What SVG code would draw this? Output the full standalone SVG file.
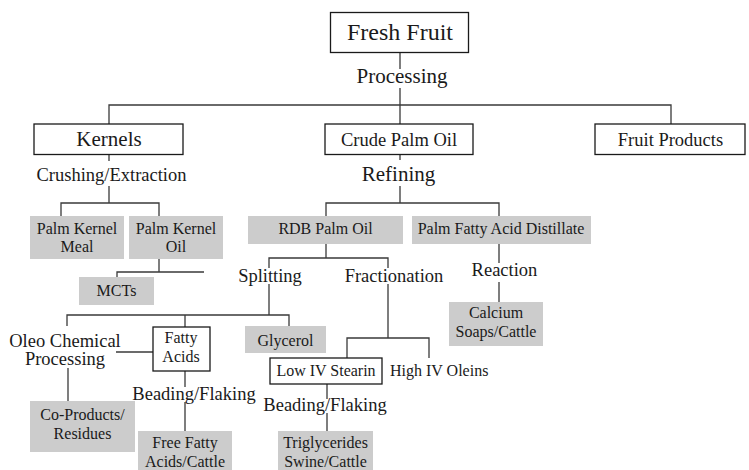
<svg xmlns="http://www.w3.org/2000/svg" width="749" height="470" viewBox="0 0 749 470">
<style>
text{font-family:"Liberation Serif","Times New Roman",serif;fill:#1a1a1a;text-anchor:middle}
.box{fill:#fff;stroke:#1a1a1a;stroke-width:1.3}
.grey{fill:#cccccc;stroke:none}
.c path{fill:none;stroke:#3a3a3a;stroke-width:1.3}
.s16{font-size:16px}
.s18{font-size:18.5px}
.s21{font-size:21px}
</style>
<rect width="749" height="470" fill="#fff"/>
<g class="c" id="connectors">
<path d="M400 52V69M400 88V124"/>
<path d="M109 124V105H671V124"/>
<path d="M109 155V161M109 186V203M61 216V203H159V216"/>
<path d="M159 259V272M204 272H117V277"/>
<path d="M400 154V160M400 186V203M326 216V203H499V216"/>
<path d="M326 244V258M269 268V258H388V268M269 284V315M388 284V338"/>
<path d="M67 326V315H289V326M185 315V327"/>
<path d="M116 352H153"/>
<path d="M68 368V401"/>
<path d="M185 371V387M185 402V431"/>
<path d="M347 358V338H429V358"/>
<path d="M327 384V399M327 413V431"/>
<path d="M499 244V263M499 282V302"/>
</g>
<g id="fresh-fruit"><rect class="box" x="330.5" y="12.5" width="138" height="40"/><text x="400" y="40" font-size="24">Fresh Fruit</text></g>
<g id="processing"><text class="s21" x="402" y="83">Processing</text></g>
<g id="kernels"><rect class="box" x="34" y="124" width="149" height="30.5"/><text class="s21" x="109" y="146">Kernels</text></g>
<g id="crude-palm-oil"><rect class="box" x="325" y="124" width="148" height="30.5"/><text class="s18" x="399" y="146">Crude Palm Oil</text></g>
<g id="fruit-products"><rect class="box" x="595" y="124" width="150" height="30.5"/><text class="s18" x="670.5" y="146">Fruit Products</text></g>
<g id="crushing"><text class="s18" x="111.5" y="181">Crushing/Extraction</text></g>
<g id="refining"><text class="s21" x="398.5" y="181">Refining</text></g>
<g id="pk-meal"><rect class="grey" x="30" y="216" width="94" height="43"/><text class="s16" x="77" y="234">Palm Kernel</text><text class="s16" x="77" y="252">Meal</text></g>
<g id="pk-oil"><rect class="grey" x="129" y="216" width="94" height="43"/><text class="s16" x="176" y="234">Palm Kernel</text><text class="s16" x="176" y="252">Oil</text></g>
<g id="mcts"><rect class="grey" x="79" y="277" width="75" height="28"/><text class="s16" x="116.5" y="296">MCTs</text></g>
<g id="rdb"><rect class="grey" x="248" y="216" width="155" height="28"/><text class="s16" x="325.5" y="234">RDB Palm Oil</text></g>
<g id="pfad"><rect class="grey" x="412" y="216" width="179" height="28"/><text class="s16" x="501" y="234">Palm Fatty Acid Distillate</text></g>
<g id="splitting"><text class="s18" x="270" y="282">Splitting</text></g>
<g id="fractionation"><text class="s18" x="394" y="282">Fractionation</text></g>
<g id="reaction"><text class="s18" x="504.5" y="276">Reaction</text></g>
<g id="calcium"><rect class="grey" x="449" y="302" width="94" height="44"/><text class="s16" x="496" y="318">Calcium</text><text class="s16" x="496" y="336.5">Soaps/Cattle</text></g>
<g id="oleo"><text class="s18" x="65" y="346.5">Oleo Chemical</text><text class="s18" x="65" y="365">Processing</text></g>
<g id="fatty-acids"><rect class="box" x="153" y="327" width="57" height="44"/><text class="s16" x="181" y="343">Fatty</text><text class="s16" x="181" y="361.5">Acids</text></g>
<g id="glycerol"><rect class="grey" x="245" y="326" width="81" height="27"/><text class="s16" x="285.5" y="345.5">Glycerol</text></g>
<g id="low-iv"><rect class="box" x="270" y="358" width="112" height="26"/><text class="s16" x="326" y="375.5">Low IV Stearin</text></g>
<g id="high-iv"><text class="s16" x="390" y="376" style="text-anchor:start">High IV Oleins</text></g>
<g id="beading1"><text class="s18" x="194" y="400">Beading/Flaking</text></g>
<g id="beading2"><text class="s18" x="325" y="411">Beading/Flaking</text></g>
<g id="co-products"><rect class="grey" x="30" y="401" width="105" height="51"/><text class="s16" x="82.5" y="420">Co-Products/</text><text class="s16" x="82.5" y="438.5">Residues</text></g>
<g id="ffa"><rect class="grey" x="138" y="431" width="94" height="39"/><text class="s16" x="185" y="448">Free Fatty</text><text class="s16" x="185" y="466.5">Acids/Cattle</text></g>
<g id="triglycerides"><rect class="grey" x="278" y="431" width="95" height="39"/><text class="s16" x="325.5" y="448">Triglycerides</text><text class="s16" x="325.5" y="466.5">Swine/Cattle</text></g>
</svg>
